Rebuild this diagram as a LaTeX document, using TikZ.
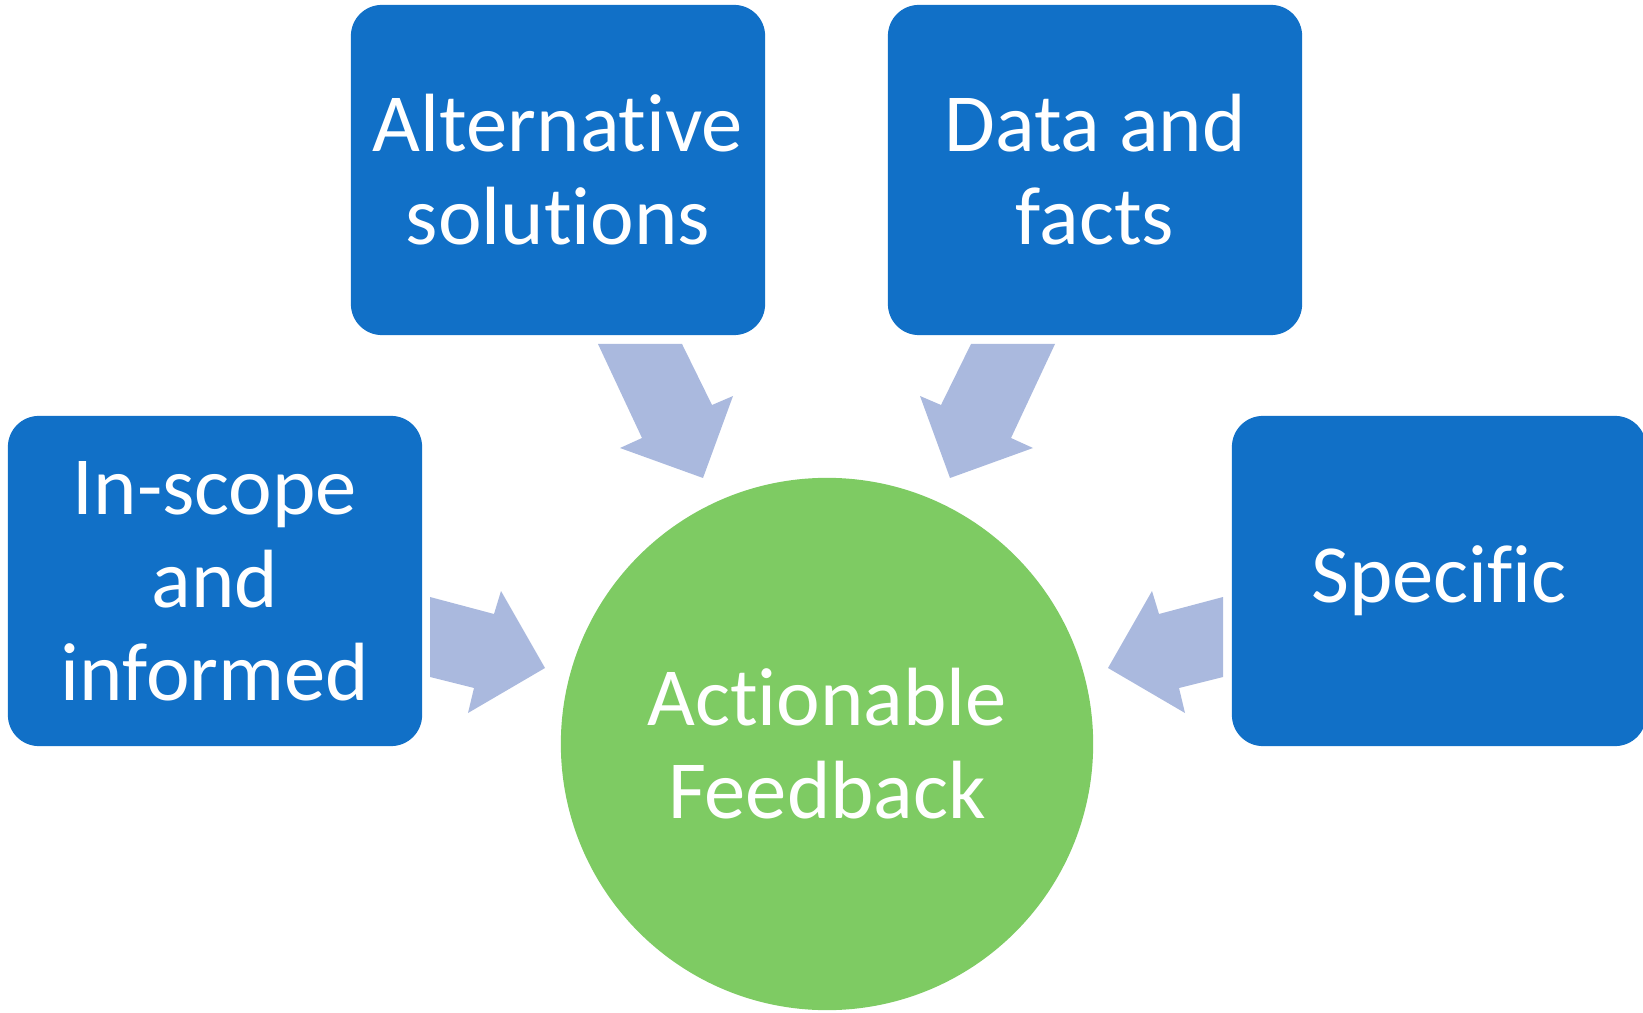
\documentclass[tikz,border=0pt]{standalone}
\usepackage{fontspec}
\setmainfont{Carlito}[Ligatures=NoCommon]
\definecolor{boxBlue}{RGB}{17,112,199}
\definecolor{arrowBlue}{RGB}{170,185,222}
\definecolor{hubGreen}{RGB}{126,203,99}

\begin{document}
\begin{tikzpicture}
[x=0.01cm,y=-0.01cm,%
  boxDecorate/.style={shape=rectangle,rounded corners=0.31cm,fill=boxBlue,
    text=white,minimum width=4.14cm,minimum height=3.3cm,inner sep=0pt,
    align=center,font=\fontsize{23.5}{26.5}\selectfont},%
  hubDecorate/.style={shape=circle,fill=hubGreen,text=white,
    minimum size=5.32cm,inner sep=0pt,align=center,
    font=\fontsize{23.5}{26.5}\selectfont},%
  arrowDecorate/.style={fill=arrowBlue,draw=none}]
\useasboundingbox (0,0) rectangle (1643,1013);
%% boxes and the hub
\foreach \nodename/\x/\y/\label in {
  alt/558/170/{Alternative\\solutions},
  data/1095/170/{Data and\\facts},
  scope/215/581/{In-scope\\and\\informed},
  specific/1439/581/{Specific}}
{
  \node (\nodename) at (\x,\y) [boxDecorate] {\label};
}
\node (hub) at (827,744) [hubDecorate] {Actionable\\Feedback};
%% block arrows
\fill[arrowDecorate] (598,344) -- (682,344) -- (712,405) -- (733,396)
  -- (703,478) -- (620,448) -- (642,438) -- cycle;
\fill[arrowDecorate] (1055,344) -- (971,344) -- (941,405) -- (920,396)
  -- (950,478) -- (1033,448) -- (1011,438) -- cycle;
\fill[arrowDecorate] (430,597) -- (494,614) -- (501,591) -- (545,668)
  -- (468,713) -- (474,688) -- (430,677) -- cycle;
\fill[arrowDecorate] (1223,597) -- (1159,614) -- (1152,591) -- (1108,668)
  -- (1185,713) -- (1179,688) -- (1223,677) -- cycle;
\end{tikzpicture}
\end{document}
